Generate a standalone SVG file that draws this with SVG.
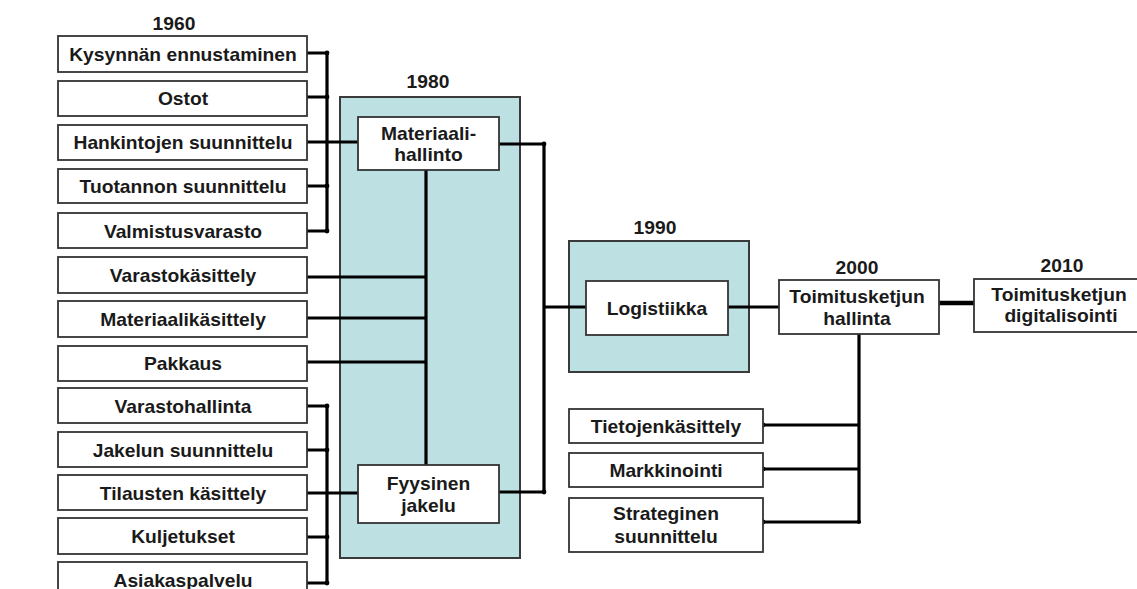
<svg xmlns="http://www.w3.org/2000/svg" width="1137" height="589" viewBox="0 0 1137 589">
  <style>
    .box { fill: #ffffff; stroke: #333333; stroke-width: 1.8; }
    .panel { fill: #bde0e3; stroke: #3a3a3a; stroke-width: 2; }
    .t { font-family: "Liberation Sans", Arial, sans-serif; font-weight: bold; font-size: 17.5px; fill: #1a1a1a; text-anchor: middle; }
    .ln { stroke: #000; stroke-width: 3.2; fill: none; stroke-linecap: butt; }
    .thick { stroke-width: 4.5; }
    .dot { fill: #000; }
  </style>

  <!-- era panels -->
  <g id="panel-1980">
    <rect class="panel" x="340" y="97" width="180" height="461"/>
    <text class="t" transform="translate(428,88) scale(1.1,1)">1980</text>
  </g>
  <g id="panel-1990">
    <rect class="panel" x="569" y="241" width="180" height="131"/>
    <text class="t" transform="translate(655,234) scale(1.1,1)">1990</text>
  </g>

  <!-- connectors -->
  <g id="connectors">
    <!-- upper 1960 bus -->
    <path class="ln" d="M327 53 V231 M306 53 H327 M306 97 H327 M306 142 H358 M306 186 H327 M306 231 H327"/>
    <!-- middle items to the 1980 spine -->
    <path class="ln" d="M426 170 V465 M307 277 H426 M307 318 H426 M307 362 H426"/>
    <!-- lower 1960 bus -->
    <path class="ln" d="M327 406 V583 M306 406 H327 M306 450 H327 M306 493 H358 M306 537 H327 M306 583 H327"/>
    <!-- 1980 to 1990 -->
    <path class="ln" d="M499 144 H544 M499 492 H544 M544 144 V492 M544 307 H586"/>
    <!-- 1990 to 2000 -->
    <path class="ln" d="M728 307 H779"/>
    <!-- 2000 to 2010 -->
    <path class="ln thick" d="M939 303 H974"/>
    <!-- 2000 branch -->
    <path class="ln" d="M859 334 V523 M763 425 H859 M763 469 H859 M763 522 H859"/>
    <!-- junction dots -->
    <g class="dot">
      <circle cx="306" cy="53" r="2.4"/><circle cx="327" cy="53" r="2.4"/>
      <circle cx="306" cy="97" r="2.4"/><circle cx="327" cy="97" r="2.4"/>
      <circle cx="306" cy="142" r="2.4"/>
      <circle cx="306" cy="186" r="2.4"/><circle cx="327" cy="186" r="2.4"/>
      <circle cx="306" cy="231" r="2.4"/><circle cx="327" cy="231" r="2.4"/>
      <circle cx="306" cy="406" r="2.4"/><circle cx="327" cy="406" r="2.4"/>
      <circle cx="306" cy="450" r="2.4"/><circle cx="327" cy="450" r="2.4"/>
      <circle cx="306" cy="493" r="2.4"/>
      <circle cx="306" cy="537" r="2.4"/><circle cx="327" cy="537" r="2.4"/>
      <circle cx="306" cy="583" r="2.4"/><circle cx="327" cy="583" r="2.4"/>
      <circle cx="544" cy="144" r="2.4"/><circle cx="544" cy="492" r="2.4"/>
      <circle cx="763" cy="425" r="2.4"/><circle cx="763" cy="469" r="2.4"/><circle cx="763" cy="522" r="2.4"/>
      <circle cx="859" cy="522" r="2"/>
    </g>
  </g>

  <!-- 1960 activities -->
  <text class="t" transform="translate(174,30) scale(1.1,1)">1960</text>
  <g id="kysynnan-ennustaminen">
    <rect class="box" x="58" y="36" width="249" height="36"/>
    <text class="t" transform="translate(183,61) scale(1.1,1)">Kysynnän ennustaminen</text>
  </g>
  <g id="ostot">
    <rect class="box" x="58" y="81" width="249" height="35"/>
    <text class="t" transform="translate(183,105) scale(1.1,1)">Ostot</text>
  </g>
  <g id="hankintojen-suunnittelu">
    <rect class="box" x="58" y="125" width="249" height="35"/>
    <text class="t" transform="translate(183,149) scale(1.1,1)">Hankintojen suunnittelu</text>
  </g>
  <g id="tuotannon-suunnittelu">
    <rect class="box" x="58" y="169" width="249" height="34"/>
    <text class="t" transform="translate(183,193) scale(1.1,1)">Tuotannon suunnittelu</text>
  </g>
  <g id="valmistusvarasto">
    <rect class="box" x="58" y="213" width="249" height="35"/>
    <text class="t" transform="translate(183,238) scale(1.1,1)">Valmistusvarasto</text>
  </g>
  <g id="varastokasittely">
    <rect class="box" x="58" y="257" width="249" height="36"/>
    <text class="t" transform="translate(183,282) scale(1.1,1)">Varastokäsittely</text>
  </g>
  <g id="materiaalikasittely">
    <rect class="box" x="58" y="301" width="249" height="36"/>
    <text class="t" transform="translate(183,326) scale(1.1,1)">Materiaalikäsittely</text>
  </g>
  <g id="pakkaus">
    <rect class="box" x="58" y="346" width="249" height="35"/>
    <text class="t" transform="translate(183,370) scale(1.1,1)">Pakkaus</text>
  </g>
  <g id="varastohallinta">
    <rect class="box" x="58" y="388" width="249" height="35"/>
    <text class="t" transform="translate(183,413) scale(1.1,1)">Varastohallinta</text>
  </g>
  <g id="jakelun-suunnittelu">
    <rect class="box" x="58" y="432" width="249" height="35"/>
    <text class="t" transform="translate(183,457) scale(1.1,1)">Jakelun suunnittelu</text>
  </g>
  <g id="tilausten-kasittely">
    <rect class="box" x="58" y="475" width="249" height="35"/>
    <text class="t" transform="translate(183,500) scale(1.1,1)">Tilausten käsittely</text>
  </g>
  <g id="kuljetukset">
    <rect class="box" x="58" y="518" width="249" height="36"/>
    <text class="t" transform="translate(183,543) scale(1.1,1)">Kuljetukset</text>
  </g>
  <g id="asiakaspalvelu">
    <rect class="box" x="58" y="562" width="249" height="36"/>
    <text class="t" transform="translate(183,587) scale(1.1,1)">Asiakaspalvelu</text>
  </g>

  <!-- 1980 -->
  <g id="materiaalihallinto">
    <rect class="box" x="358" y="117" width="141" height="53"/>
    <text class="t" transform="translate(428.5,140) scale(1.1,1)">Materiaali-</text>
    <text class="t" transform="translate(428.5,161) scale(1.1,1)">hallinto</text>
  </g>
  <g id="fyysinen-jakelu">
    <rect class="box" x="358" y="465" width="141" height="58"/>
    <text class="t" transform="translate(428.5,490) scale(1.1,1)">Fyysinen</text>
    <text class="t" transform="translate(428.5,512) scale(1.1,1)">jakelu</text>
  </g>

  <!-- 1990 -->
  <g id="logistiikka">
    <rect class="box" x="586" y="281" width="142" height="54"/>
    <text class="t" transform="translate(657,315) scale(1.1,1)">Logistiikka</text>
  </g>

  <!-- 2000 -->
  <g id="toimitusketjun-hallinta">
    <text class="t" transform="translate(857,274) scale(1.1,1)">2000</text>
    <rect class="box" x="779" y="280" width="160" height="54"/>
    <text class="t" transform="translate(857,303) scale(1.1,1)">Toimitusketjun</text>
    <text class="t" transform="translate(857,325) scale(1.1,1)">hallinta</text>
  </g>
  <g id="tietojenkasittely">
    <rect class="box" x="569" y="409" width="194" height="34"/>
    <text class="t" transform="translate(666,433) scale(1.1,1)">Tietojenkäsittely</text>
  </g>
  <g id="markkinointi">
    <rect class="box" x="569" y="453" width="194" height="34"/>
    <text class="t" transform="translate(666,477) scale(1.1,1)">Markkinointi</text>
  </g>
  <g id="strateginen-suunnittelu">
    <rect class="box" x="569" y="498" width="194" height="54"/>
    <text class="t" transform="translate(666,520) scale(1.1,1)">Strateginen</text>
    <text class="t" transform="translate(666,543) scale(1.1,1)">suunnittelu</text>
  </g>

  <!-- 2010 -->
  <g id="toimitusketjun-digitalisointi">
    <text class="t" transform="translate(1062,272) scale(1.1,1)">2010</text>
    <rect class="box" x="974" y="279" width="175" height="53"/>
    <text class="t" transform="translate(1059,301) scale(1.1,1)">Toimitusketjun</text>
    <text class="t" transform="translate(1061,322) scale(1.1,1)">digitalisointi</text>
  </g>
</svg>
